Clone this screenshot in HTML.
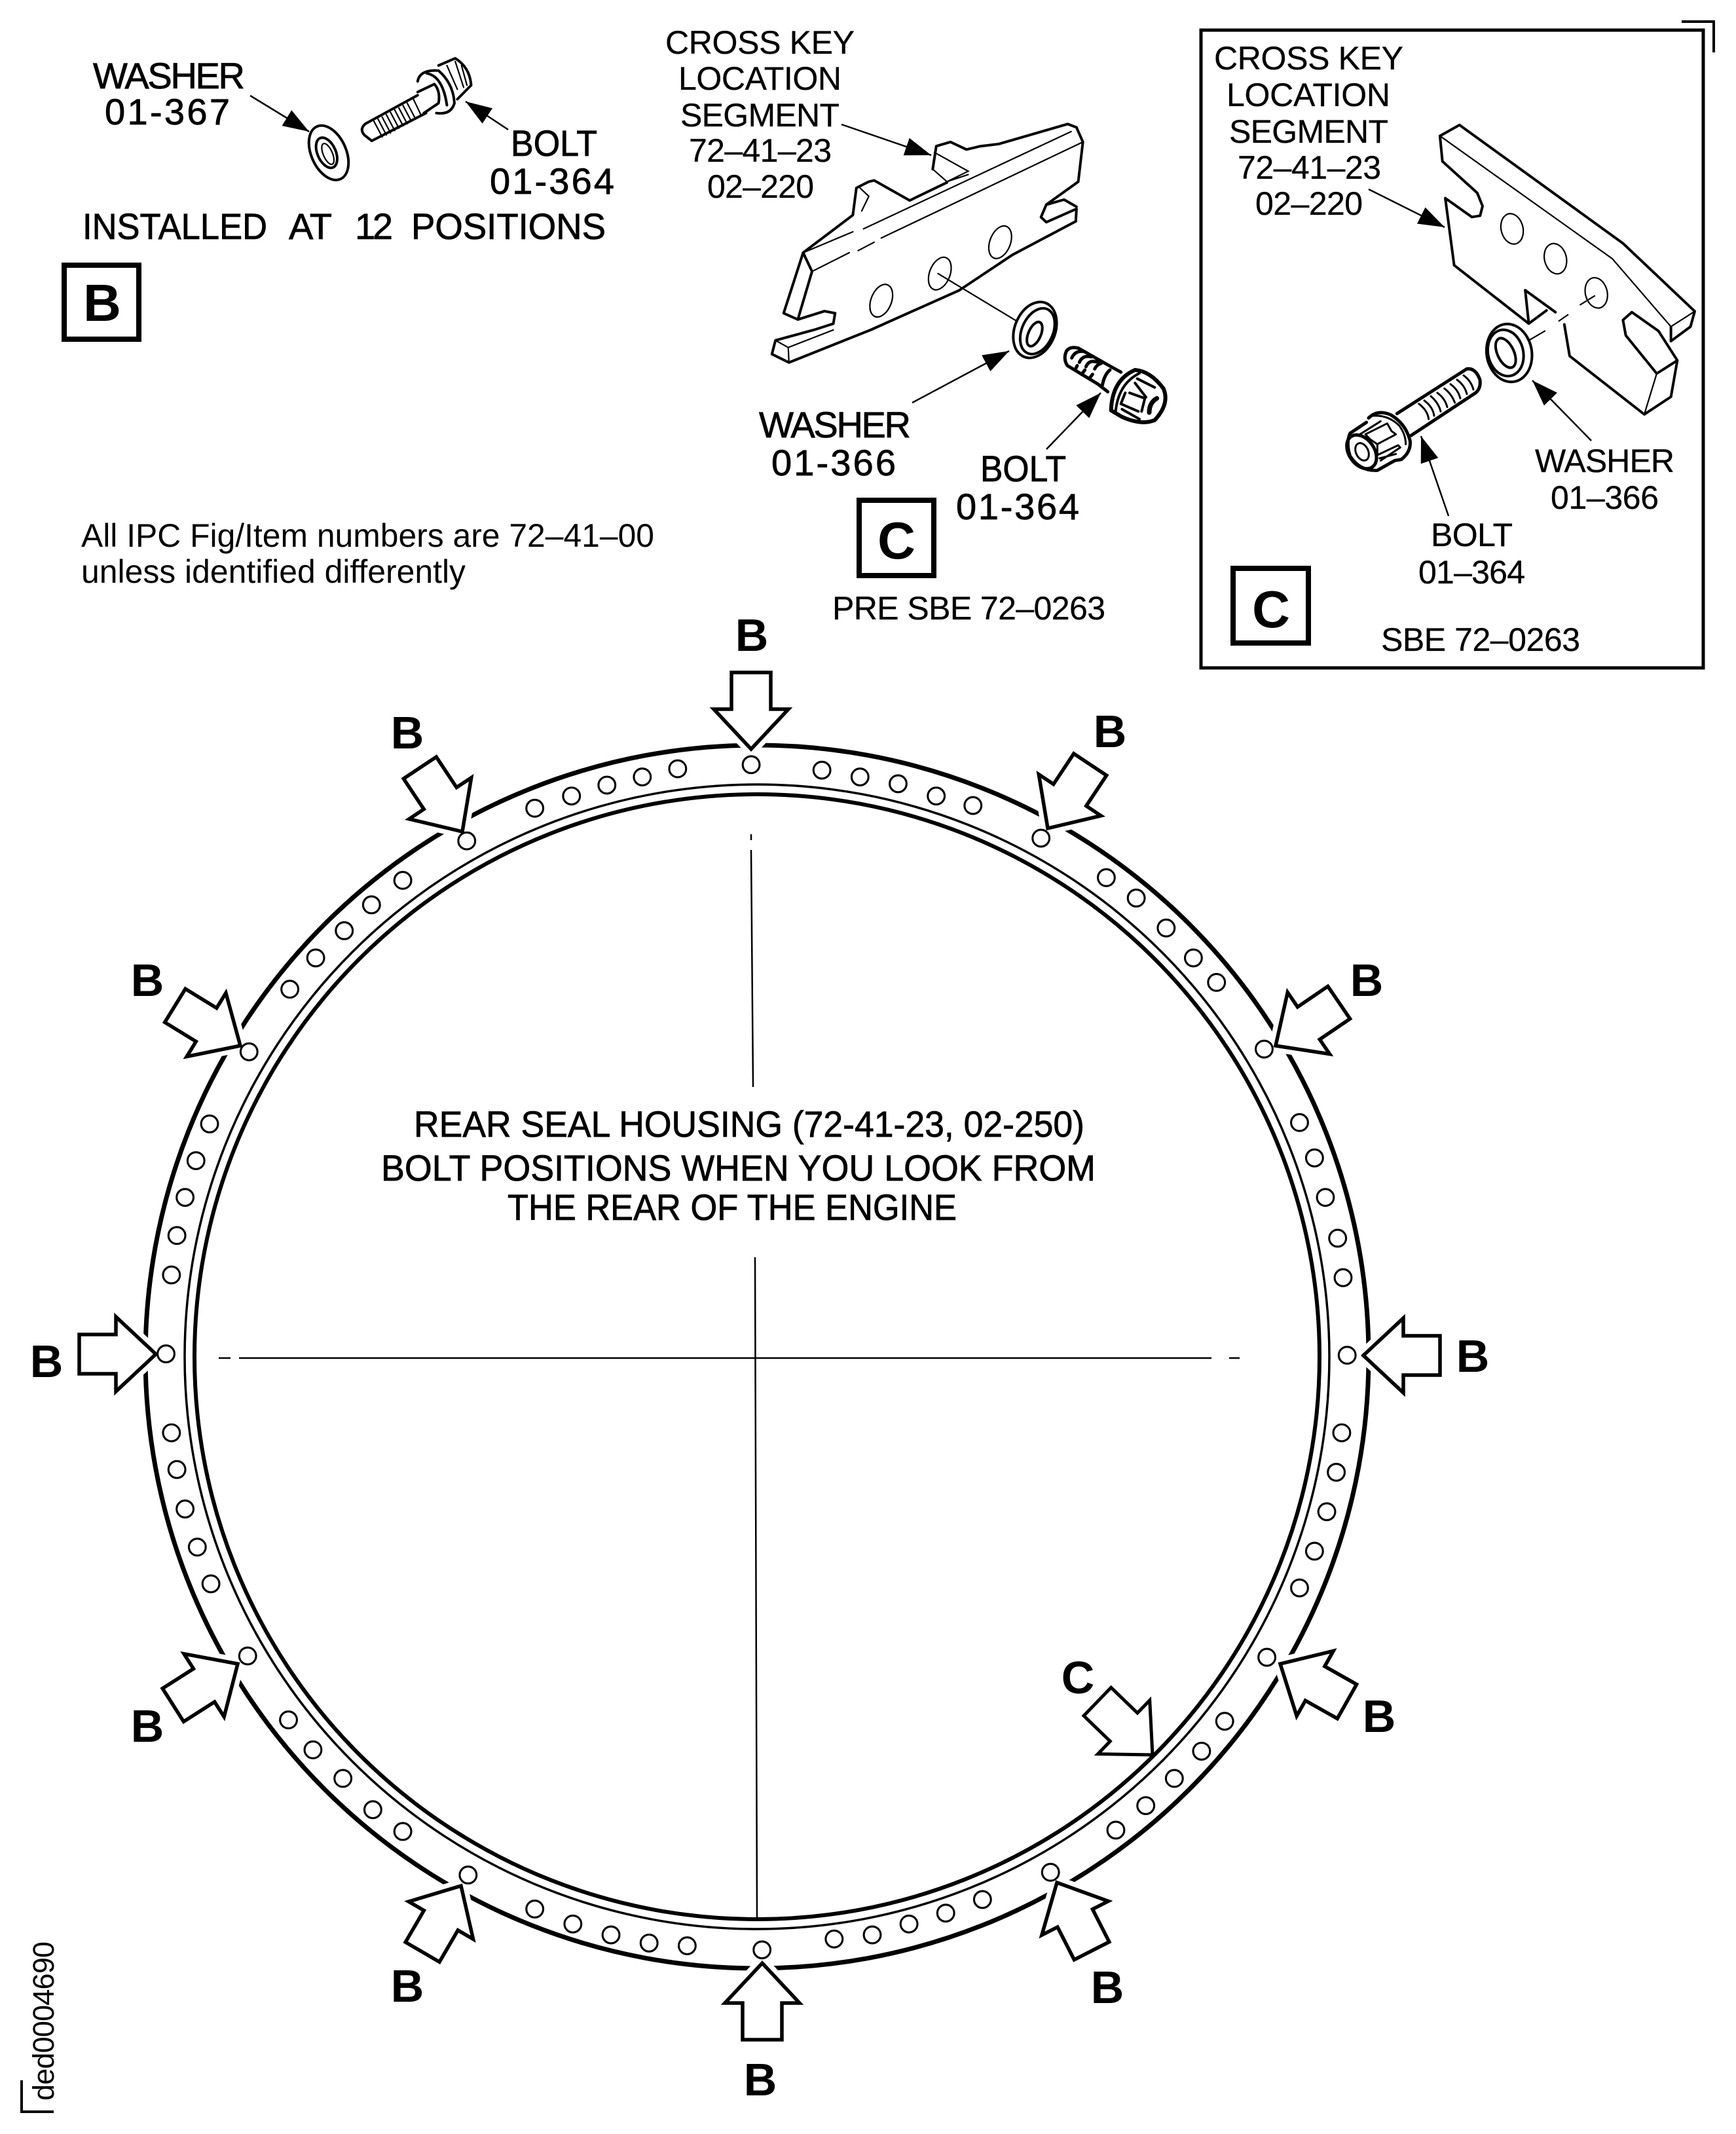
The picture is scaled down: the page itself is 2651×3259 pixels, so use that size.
<!DOCTYPE html>
<html><head><meta charset="utf-8"><title>Rear seal housing bolt positions</title>
<style>
html,body{margin:0;padding:0;background:#fff}
svg{display:block}
text{font-family:"Liberation Sans",sans-serif;fill:#000}
.t{font-size:50px;stroke:#000;stroke-width:.3}
.m{font-size:56px;stroke:#000;stroke-width:.8}
.b{font-weight:bold;text-anchor:middle;font-size:70px}
.v *{vector-effect:non-scaling-stroke}
.d{fill:none;stroke:#000;stroke-width:4;stroke-linejoin:round;stroke-linecap:round}
.e{fill:none;stroke:#000;stroke-width:3;stroke-linejoin:round;stroke-linecap:round}
.n{fill:none;stroke:#000;stroke-width:2.2;stroke-linecap:round}
.l{stroke:#000;stroke-width:2.5;fill:none}
</style></head><body>
<svg xmlns="http://www.w3.org/2000/svg" width="2651" height="3259" viewBox="0 0 2651 3259">
<defs>
<g id="a"><polygon points="0,0 -61,-57 -61,-30 -117,-30 -117,30 -61,30 -61,57" fill="#fff" stroke="#fff" stroke-width="20"/>
<polygon points="0,0 -61,-57 -61,-30 -117,-30 -117,30 -61,30 -61,57" fill="#fff" stroke="#000" stroke-width="5.5"/></g>
<marker id="h" markerUnits="userSpaceOnUse" markerWidth="44" markerHeight="32" refX="40" refY="16" orient="auto"><path d="M0,2 L40,16 L0,30 Z" fill="#000"/></marker>
</defs>
<rect width="2651" height="3259" fill="#fff"/>

<!-- ring -->
<circle cx="1156" cy="2072" r="934" fill="none" stroke="#000" stroke-width="7"/>
<circle cx="1156" cy="2072" r="874" fill="none" stroke="#000" stroke-width="3.5"/>
<circle cx="1156" cy="2072" r="859" fill="none" stroke="#000" stroke-width="6"/>

<!-- centre lines -->
<g stroke="#000" stroke-width="2.5" fill="none">
<path d="M1147,1274V1283M1147,1298L1150,1660M1153,1920L1156,2930"/>
<path d="M334,2074H352M365,2074H1850M1877,2074H1893"/>
</g>

<!-- block arrows -->
<use href="#a" transform="translate(1147,1144) rotate(90)"/>
<use href="#a" transform="translate(1600,1265) rotate(123.6)"/>
<use href="#a" transform="translate(706,1270) rotate(56.4)"/>
<use href="#a" transform="translate(238,2068)"/>
<use href="#a" transform="translate(2082,2070) rotate(180)"/>
<use href="#a" transform="translate(367,1597) rotate(31.6)"/>
<use href="#a" transform="translate(1948,1597) rotate(145.7)"/>
<use href="#a" transform="translate(1955,2541) rotate(209.4)"/>
<use href="#a" transform="translate(1614,2875) rotate(243)"/>
<use href="#a" transform="translate(363,2541) rotate(-32.5)"/>
<use href="#a" transform="translate(704,2880) rotate(-59.8)"/>
<use href="#a" transform="translate(1164,2998) rotate(-90)"/>
<polygon points="0,0 -61,-57 -61,-30 -117,-30 -117,30 -61,30 -61,57" fill="#fff" stroke="#000" stroke-width="5" transform="translate(1760,2680) rotate(44)"/>

<!-- holes -->
<g transform="scale(2.078)" fill="#fff" stroke="#000" stroke-width="1.5">
<circle cx="552" cy="562" r="6.2"/><circle cx="604" cy="566" r="6.2"/><circle cx="632" cy="571" r="6.2"/><circle cx="660" cy="576" r="6.2"/><circle cx="688" cy="585" r="6.2"/><circle cx="715" cy="592" r="6.2"/>
<circle cx="765" cy="616" r="6.2"/><circle cx="813" cy="645" r="6.2"/><circle cx="835" cy="660" r="6.2"/><circle cx="857" cy="682" r="6.2"/><circle cx="877" cy="704" r="6.2"/><circle cx="894" cy="722" r="6.2"/>
<circle cx="929" cy="771" r="6.2"/><circle cx="955" cy="825" r="6.2"/><circle cx="966" cy="851" r="6.2"/><circle cx="974" cy="880" r="6.2"/><circle cx="983" cy="910" r="6.2"/><circle cx="987" cy="939" r="6.2"/>
<circle cx="990" cy="996" r="6.2"/><circle cx="986" cy="1053" r="6.2"/><circle cx="982" cy="1082" r="6.2"/><circle cx="975" cy="1111" r="6.2"/><circle cx="966" cy="1140" r="6.2"/><circle cx="955" cy="1167" r="6.2"/>
<circle cx="931" cy="1218" r="6.2"/><circle cx="900" cy="1265" r="6.2"/><circle cx="883" cy="1287" r="6.2"/><circle cx="863" cy="1307" r="6.2"/><circle cx="842" cy="1327" r="6.2"/><circle cx="820" cy="1345" r="6.2"/>
<circle cx="772" cy="1376" r="6.2"/><circle cx="722" cy="1396" r="6.2"/><circle cx="695" cy="1406" r="6.2"/><circle cx="668" cy="1414" r="6.2"/><circle cx="641" cy="1422" r="6.2"/><circle cx="613" cy="1425" r="6.2"/>
<circle cx="560" cy="1433" r="6.2"/><circle cx="505" cy="1430" r="6.2"/><circle cx="477" cy="1428" r="6.2"/><circle cx="449" cy="1422" r="6.2"/><circle cx="421" cy="1414" r="6.2"/><circle cx="393" cy="1403" r="6.2"/>
<circle cx="344" cy="1378" r="6.2"/><circle cx="296" cy="1346" r="6.2"/><circle cx="274" cy="1330" r="6.2"/><circle cx="252" cy="1307" r="6.2"/><circle cx="230" cy="1286" r="6.2"/><circle cx="212" cy="1264" r="6.2"/>
<circle cx="182" cy="1217" r="6.2"/><circle cx="155" cy="1164" r="6.2"/><circle cx="145" cy="1137" r="6.2"/><circle cx="136" cy="1109" r="6.2"/><circle cx="130" cy="1080" r="6.2"/><circle cx="126" cy="1053" r="6.2"/>
<circle cx="122" cy="995" r="6.2"/><circle cx="126" cy="937" r="6.2"/><circle cx="130" cy="908" r="6.2"/><circle cx="136" cy="880" r="6.2"/><circle cx="144" cy="853" r="6.2"/><circle cx="154" cy="826" r="6.2"/>
<circle cx="183" cy="773" r="6.2"/><circle cx="213" cy="727" r="6.2"/><circle cx="232" cy="704" r="6.2"/><circle cx="253" cy="684" r="6.2"/><circle cx="273" cy="665" r="6.2"/><circle cx="296" cy="647" r="6.2"/>
<circle cx="343" cy="618" r="6.2"/><circle cx="393" cy="594" r="6.2"/><circle cx="420" cy="585" r="6.2"/><circle cx="446" cy="577" r="6.2"/><circle cx="472" cy="571" r="6.2"/><circle cx="498" cy="565" r="6.2"/>
</g>

<!-- ring labels -->
<text class="b" x="1148" y="994">B</text>
<text class="b" x="622" y="1143">B</text>
<text class="b" x="1695" y="1141">B</text>
<text class="b" x="2087" y="1521">B</text>
<text class="b" x="225" y="1521">B</text>
<text class="b" x="71" y="2103">B</text>
<text class="b" x="2249" y="2095">B</text>
<text class="b" x="225" y="2660">B</text>
<text class="b" x="2106" y="2645">B</text>
<text class="b" x="1691" y="3059">B</text>
<text class="b" x="622" y="3057">B</text>
<text class="b" x="1161" y="3200">B</text>
<text class="b" x="1646" y="2586">C</text>

<!-- ring title -->
<text class="m" x="632" y="1736" textLength="1024" lengthAdjust="spacingAndGlyphs">REAR SEAL HOUSING (72-41-23, 02-250)</text>
<text class="m" x="582" y="1803" textLength="1091" lengthAdjust="spacingAndGlyphs">BOLT POSITIONS WHEN YOU LOOK FROM</text>
<text class="m" x="775" y="1863" textLength="686" lengthAdjust="spacingAndGlyphs">THE REAR OF THE ENGINE</text>

<!-- detail B -->
<text class="m" x="142" y="135" textLength="232">WASHER</text>
<text class="m" x="160" y="190" textLength="191">01-367</text>
<text class="m" x="780" y="238" textLength="132" lengthAdjust="spacingAndGlyphs">BOLT</text>
<text class="m" x="748" y="296" textLength="190">01-364</text>
<text class="m" x="126" y="365" textLength="282" lengthAdjust="spacingAndGlyphs">INSTALLED</text>
<text class="m" x="441" y="365" textLength="66">AT</text>
<text class="m" x="542" y="365" textLength="58">12</text>
<text class="m" x="628" y="365" textLength="297" lengthAdjust="spacingAndGlyphs">POSITIONS</text>
<rect x="98" y="405" width="114" height="113" fill="none" stroke="#000" stroke-width="8"/>
<text class="b" style="font-size:80px" x="156" y="490">B</text>
<text style="font-size:50px" x="124" y="835" textLength="875" lengthAdjust="spacingAndGlyphs">All IPC Fig/Item numbers are 72–41–00</text>
<text style="font-size:50px" x="124" y="890" textLength="587" lengthAdjust="spacingAndGlyphs">unless identified differently</text>
<line class="l" x1="382" y1="146" x2="472" y2="201" marker-end="url(#h)"/>
<line class="l" x1="776" y1="198" x2="711" y2="155" marker-end="url(#h)"/>
<g class="v" transform="scale(.6378,.6059)">
<ellipse class="d" cx="787" cy="385" rx="42" ry="72" transform="rotate(-22 787 385)"/>
<ellipse class="d" cx="782" cy="385" rx="22" ry="40" transform="rotate(-22 782 385)"/>
<ellipse class="n" cx="785" cy="388" rx="11" ry="28" transform="rotate(-22 785 388)"/>
<path class="d" d="M1000,240L875,312Q860,325 872,340L890,355L1020,285"/>
<path class="n" d="M895,305L915,345M915,295L935,335M935,283L955,323M955,272L975,312M975,260L995,300M990,250L1008,290M905,300L925,340M925,289L945,329M945,277L965,317M965,266L985,306"/>
<path class="d" d="M1000,232L1040,212Q1055,230 1050,260L1015,285"/>
<path class="d" d="M1000,205Q1005,175 1050,178Q1085,210 1088,260Q1080,290 1045,285"/>
<path class="d" d="M1022,185Q1060,192 1070,265"/>
<path class="d" d="M1050,165L1090,147Q1125,170 1128,215L1095,250"/>
<path class="n" d="M1070,165L1095,225M1090,155L1110,220M1105,165L1118,215"/>
</g>

<!-- detail C (pre SBE) -->
<text class="t" x="1016" y="82" textLength="289">CROSS KEY</text>
<text class="t" x="1036" y="137" textLength="249">LOCATION</text>
<text class="t" x="1039" y="193" textLength="243">SEGMENT</text>
<text class="t" x="1052" y="247" textLength="218">72–41–23</text>
<text class="t" x="1080" y="302" textLength="163">02–220</text>
<text class="m" x="1159" y="668" textLength="232">WASHER</text>
<text class="m" x="1178" y="726" textLength="190">01-366</text>
<text class="m" x="1497" y="735" textLength="131" lengthAdjust="spacingAndGlyphs">BOLT</text>
<text class="m" x="1460" y="793" textLength="188">01-364</text>
<rect x="1312" y="764" width="114" height="115" fill="none" stroke="#000" stroke-width="8"/>
<text class="b" style="font-size:80px" x="1369" y="853">C</text>
<text class="t" x="1271" y="946" textLength="417">PRE SBE 72–0263</text>
<line class="l" x1="1285" y1="190" x2="1422" y2="237" marker-end="url(#h)"/>
<line class="l" x1="1393" y1="615" x2="1541" y2="536" marker-end="url(#h)"/>
<line class="l" x1="1598" y1="686" x2="1681" y2="600" marker-end="url(#h)"/>
<g class="v" transform="translate(950,0) scale(.5421,.6378)">
<path class="d" d="M510,605L650,515L660,450L695,435L710,432L810,480L915,437M875,405L885,350L925,340L970,358L1010,350L1060,345L1255,297L1280,305L1298,340L1285,435L1195,490L1180,520L1195,532L1280,500L1278,530M1195,490L1245,478L1280,495"/>
<path class="d" d="M1278,530L1100,610L950,695L700,790L470,868L422,848L432,815L540,790L595,775L600,750L570,745L495,765L455,750L510,605L535,650L495,765"/>
<path class="n" d="M510,605L650,555M680,548L1265,315M535,650L640,605M665,600L710,580M730,570L1298,340M880,365L975,410L915,435M875,405L915,435M432,815L468,832L470,868M468,832L595,790M670,450L695,470L675,505M915,435L975,418"/>
<ellipse class="n" cx="730" cy="720" rx="28" ry="42" transform="rotate(30 730 720)"/>
<ellipse class="n" cx="895" cy="655" rx="28" ry="42" transform="rotate(30 895 655)"/>
<ellipse class="n" cx="1065" cy="580" rx="28" ry="42" transform="rotate(30 1065 580)"/>
<line class="n" x1="890" y1="655" x2="1110" y2="768"/>
<ellipse class="d" cx="1163" cy="790" rx="55" ry="72" transform="rotate(35 1163 790)"/>
<ellipse class="d" cx="1170" cy="793" rx="42" ry="60" transform="rotate(35 1170 793)"/>
<ellipse class="d" cx="1162" cy="800" rx="17" ry="32" transform="rotate(30 1162 800)"/>
</g>
<!-- pre SBE bolt -->
<g class="v" transform="translate(1600,500) scale(.3333)">
<path class="d" style="stroke-width:5" d="M85,110Q100,85 140,95L290,180L335,205M85,110Q70,145 90,175L230,260L275,295"/>
<path class="d" style="stroke-width:5" d="M110,140Q125,105 165,110M145,160Q160,125 200,135M175,180Q190,145 230,160M215,190Q225,170 245,165M125,195L135,175M155,215L170,195M190,235L205,215M250,265Q260,215 285,195"/>
<path class="d" style="stroke-width:6" d="M290,380Q295,240 400,195M400,195Q470,200 530,280Q560,350 490,425Q430,450 340,410L290,380"/>
<path class="d" d="M310,395Q320,260 420,210M410,235L490,275M400,255L450,320M375,300L445,325L430,385M355,300L335,350L415,385M340,375L420,420"/>
<path class="d" style="stroke-width:7" d="M500,325Q465,345 465,390"/>
</g>

<!-- panel C (SBE) -->
<rect x="1834" y="46" width="767" height="974" fill="none" stroke="#000" stroke-width="5"/>
<path d="M2568,33H2617V80" fill="none" stroke="#000" stroke-width="4"/>
<text class="t" x="1854" y="106" textLength="289">CROSS KEY</text>
<text class="t" x="1873" y="162" textLength="250">LOCATION</text>
<text class="t" x="1877" y="218" textLength="243">SEGMENT</text>
<text class="t" x="1890" y="273" textLength="219">72–41–23</text>
<text class="t" x="1917" y="328" textLength="164">02–220</text>
<text class="t" x="2344" y="721" textLength="213">WASHER</text>
<text class="t" x="2368" y="777" textLength="165">01–366</text>
<text class="t" x="2185" y="834" textLength="125">BOLT</text>
<text class="t" x="2166" y="891" textLength="163">01–364</text>
<text class="t" x="2109" y="994" textLength="304">SBE 72–0263</text>
<rect x="1883" y="868" width="115" height="114" fill="none" stroke="#000" stroke-width="8"/>
<text class="b" style="font-size:80px" x="1941" y="958">C</text>
<line class="l" x1="2090" y1="289" x2="2206" y2="347" marker-end="url(#h)"/>
<line class="l" x1="2430" y1="673" x2="2340" y2="581" marker-end="url(#h)"/>
<line class="l" x1="2212" y1="788" x2="2170" y2="666" marker-end="url(#h)"/>
<g class="v" transform="translate(1800,0) scale(.5427,.6696)">
<path class="d" d="M735,310L790,285L1250,555L1452,710L1440,745L1385,778L1385,745M735,310L742,368L840,440L855,470L848,492L825,495L750,452L775,605L985,738L975,662L1060,712M985,738L1035,708M1085,740L1100,812L1310,945L1385,905L1403,822L1350,755L1275,712L1250,730L1258,765L1345,852L1403,822"/>
<path class="n" d="M735,310L1220,590L1385,745L1452,710M1345,852L1310,945M1070,732L1095,718M988,775L1030,755M1130,695L1170,675"/>
<ellipse class="n" cx="938" cy="522" rx="30" ry="36" transform="rotate(-30 938 522)"/>
<ellipse class="n" cx="1060" cy="590" rx="30" ry="36" transform="rotate(-30 1060 590)"/>
<ellipse class="n" cx="1175" cy="668" rx="30" ry="36" transform="rotate(-30 1175 668)"/>
<ellipse class="d" cx="930" cy="805" rx="62" ry="68" transform="rotate(-35 930 805)"/>
<ellipse class="d" cx="920" cy="805" rx="48" ry="55" transform="rotate(-35 920 805)"/>
<ellipse class="d" cx="920" cy="805" rx="22" ry="38" transform="rotate(-35 920 805)"/>
</g>
<!-- SBE bolt -->
<g class="v" transform="translate(2040,550) scale(.3333)">
<path class="d" style="stroke-width:5" d="M280,245L600,40Q640,35 660,90Q665,130 640,150L345,345"/>
<path class="e" d="M380,200Q420,230 425,270M405,185Q445,215 450,255M435,165Q470,195 480,235M465,150Q500,175 510,215M497,130Q530,155 545,195M525,110Q560,135 570,175M555,90Q590,115 600,155M585,70Q620,95 630,135"/>
<path class="d" style="stroke-width:5" d="M150,265Q190,225 250,250Q320,290 340,370Q345,420 300,455"/>
<path class="e" d="M170,255Q240,250 290,300Q320,340 320,385"/>
<path class="d" style="stroke-width:5" d="M140,285L65,335Q45,380 65,440Q110,510 190,505L270,460L300,455"/>
<ellipse class="d" style="stroke-width:5" cx="118" cy="420" rx="58" ry="85" transform="rotate(-35 118 420)"/>
<ellipse class="e" cx="120" cy="420" rx="28" ry="42" transform="rotate(-25 120 420)"/>
<path class="e" d="M110,340L205,280M135,340L235,290L255,325L275,340L190,385L160,365L135,340M190,385L190,435L285,390L295,400L205,460M200,450L275,430"/>
</g>

<!-- drawing number -->
<text transform="translate(82,3208) rotate(-90)" style="font-size:45px" textLength="243">ded0004690</text>
<path d="M33,3177V3225H82" fill="none" stroke="#000" stroke-width="4"/>
</svg>
</body></html>
